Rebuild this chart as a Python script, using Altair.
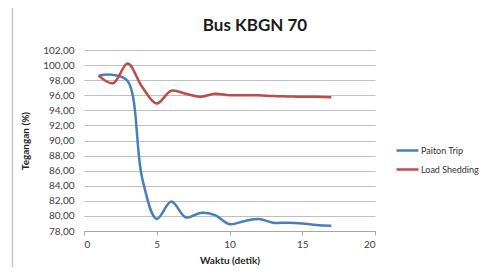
import altair as alt
import pandas as pd

waktu = list(range(1, 18))
paiton_trip = [98.6, 98.7, 97.9, 85.0, 79.6, 81.9, 79.8, 80.4, 80.1, 78.9, 79.3, 79.6, 79.1, 79.1, 79.0, 78.8, 78.7]
load_shedding = [98.6, 97.6, 100.2, 97.1, 94.9, 96.6, 96.2, 95.8, 96.2, 96.0, 96.0, 96.0, 95.9, 95.85, 95.8, 95.8, 95.75]
series = ["Paiton Trip", "Load Shedding"]
colors = ["#4a7ebb", "#be4b48"]
y_ticks = list(range(78, 103, 2))
x_ticks = [0, 5, 10, 15, 20]
chart_title = "Bus KBGN 70"

rows = []
for name, vals in zip(series, [paiton_trip, load_shedding]):
    for t, v in zip(waktu, vals):
        rows.append({"Waktu": t, "Tegangan": v, "Seri": name})
df = pd.DataFrame(rows)

FONT = "Lato"

lines = alt.Chart(df).mark_line(interpolate="catmull-rom", strokeWidth=2.5).encode(
    x=alt.X("Waktu:Q", scale=alt.Scale(domain=[0, 20], nice=False),
            axis=alt.Axis(values=x_ticks, title="Waktu (detik)", grid=False,
                          domainColor="#a6a6a6", tickColor="#a6a6a6", tickSize=4,
                          labelPadding=4, titlePadding=6)),
    y=alt.Y("Tegangan:Q", scale=alt.Scale(domain=[78, 102], nice=False, zero=False),
            axis=alt.Axis(values=y_ticks, title="Tegangan (%)", domain=False, ticks=False,
                          labelExpr="replace(format(datum.value, '.2f'), '.', ',')",
                          gridColor="#bfbfbf", labelPadding=10, titlePadding=12)),
    color=alt.Color("Seri:N", scale=alt.Scale(domain=series, range=colors),
                    legend=alt.Legend(title=None, orient="none", legendX=311, legendY=88,
                                      symbolType="stroke", symbolSize=480, symbolStrokeWidth=2.5,
                                      rowPadding=1, labelFontSize=9, labelColor="#333333",
                                      labelFont=FONT, labelOffset=1)),
)

base = alt.Chart(pd.DataFrame({"k": [0]}))
frame_top = base.mark_rule(color="#c8c8c8", strokeWidth=1.5, clip=False).encode(
    x=alt.value(-72), x2=alt.value(420), y=alt.value(-47))
frame_left = base.mark_rule(color="#c8c8c8", strokeWidth=1.5, clip=False).encode(
    x=alt.value(-71.5), y=alt.value(-47), y2=alt.value(240))
title = base.mark_text(font=FONT, fontSize=17, fontWeight="bold", color="#1a1a1a",
                       align="center", baseline="alphabetic", clip=False).encode(
    x=alt.value(171), y=alt.value(-19), text=alt.value(chart_title))

chart = alt.layer(frame_top, frame_left, title, lines).properties(
    width=291, height=181,
    autosize=alt.AutoSizeParams(type="none"),
    padding={"left": 76, "top": 42, "right": 104, "bottom": 36},
).configure_axis(
    labelFont=FONT, labelFontSize=10, labelColor="#404040",
    titleFont=FONT, titleFontSize=10, titleFontWeight="bold", titleColor="#262626",
).configure_view(stroke=None)

chart.save("out.html", embed_options={"renderer": "svg", "actions": False})
